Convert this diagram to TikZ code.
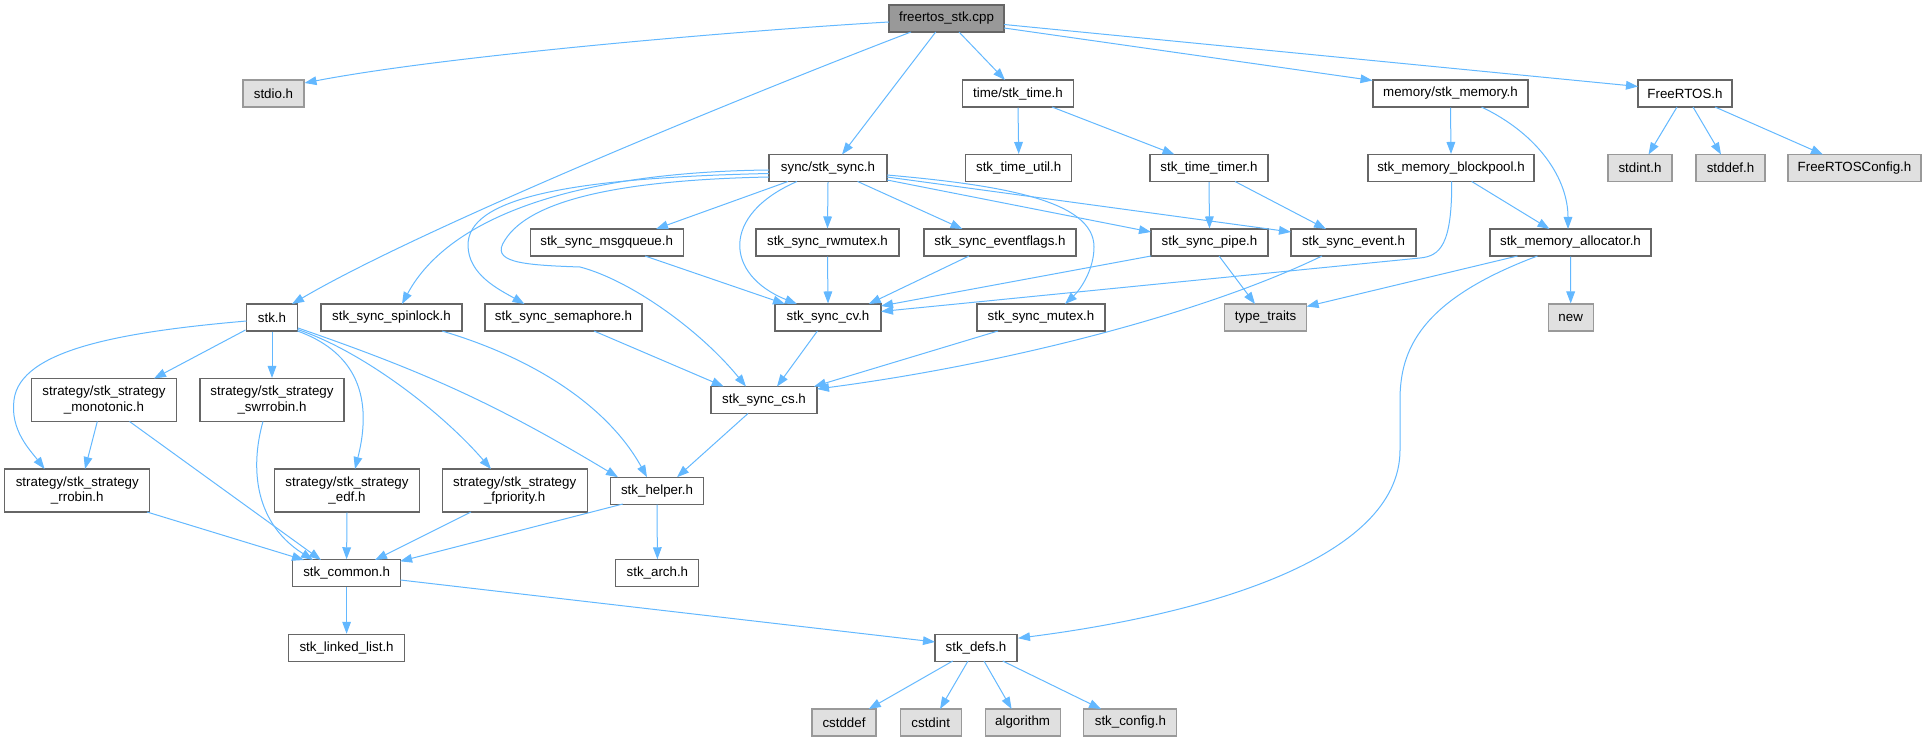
\documentclass[tikz,border=0pt]{standalone}
\usepackage{fontspec}
\setmainfont{Liberation Sans}
\usetikzlibrary{arrows.meta,calc}
\definecolor{edgec}{HTML}{63B8FF}
\begin{document}
\begin{tikzpicture}[x=0.75pt,y=-0.75pt,
 nb/.style={draw=black!60,fill=white,line width=0.8pt,minimum height=20.25pt,inner sep=0pt,font=\fontsize{10}{11.5}\selectfont,align=center},
 ext/.style={nb,draw=black!40,fill=black!12},
 root/.style={nb,fill=black!40},
 tall/.style={minimum height=32.25pt},
 bw/.style={minimum width=#1*0.75pt},
 ed/.style={draw=edgec,line width=0.75pt,-{Triangle[length=9pt,width=6.5pt]}}]
\useasboundingbox (0,0) rectangle (1926,741);
\node[root,bw=115] (F) at (946.5,18.5) {freertos\_stk.cpp};
\node[ext,bw=61] (stdio) at (273.5,93.5) {stdio.h};
\node[nb,bw=111.5] (time) at (1018,93.5) {time/stk\_time.h};
\node[nb,bw=155] (mem) at (1450.5,93.5) {memory/stk\_memory.h};
\node[nb,bw=94] (frtos) at (1685,93.5) {FreeRTOS.h};
\node[nb,bw=118] (sync) at (828,168) {sync/stk\_sync.h};
\node[nb,bw=106] (tutil) at (1018.7,168) {stk\_time\_util.h};
\node[nb,bw=118] (ttimer) at (1209,168) {stk\_time\_timer.h};
\node[nb,bw=166] (bpool) at (1451,168) {stk\_memory\_blockpool.h};
\node[ext,bw=64] (stdint) at (1640,168) {stdint.h};
\node[ext,bw=69] (stddef) at (1730.5,168) {stddef.h};
\node[ext,bw=133] (frcfg) at (1854.5,168) {FreeRTOSConfig.h};
\node[nb,bw=153] (msgq) at (606.7,242.5) {stk\_sync\_msgqueue.h};
\node[nb,bw=143] (rwm) at (827.5,242.5) {stk\_sync\_rwmutex.h};
\node[nb,bw=152] (evf) at (1000,242.5) {stk\_sync\_eventflags.h};
\node[nb,bw=117] (pipe) at (1209.5,242.5) {stk\_sync\_pipe.h};
\node[nb,bw=125] (event) at (1353.5,242.5) {stk\_sync\_event.h};
\node[nb,bw=161] (alloc) at (1570.5,242.5) {stk\_memory\_allocator.h};
\node[nb,bw=51] (stk) at (272,317.5) {stk.h};
\node[nb,bw=141] (spin) at (391.5,317.5) {stk\_sync\_spinlock.h};
\node[nb,bw=157] (sem) at (563.5,317.5) {stk\_sync\_semaphore.h};
\node[nb,bw=106] (cv) at (828,317.5) {stk\_sync\_cv.h};
\node[nb,bw=128] (mutex) at (1041,317.5) {stk\_sync\_mutex.h};
\node[ext,bw=82] (tt) at (1265.6,317.5) {type\_traits};
\node[ext,bw=45] (newh) at (1570.7,317.5) {new};
\node[nb,tall,bw=145] (mono) at (104,400) {strategy/stk\_strategy\\\_monotonic.h};
\node[nb,tall,bw=144] (swr) at (272,400) {strategy/stk\_strategy\\\_swrrobin.h};
\node[nb,bw=106] (cs) at (764,400) {stk\_sync\_cs.h};
\node[nb,tall,bw=145] (rr) at (77.3,490.5) {strategy/stk\_strategy\\\_rrobin.h};
\node[nb,tall,bw=145] (edf) at (347,490.5) {strategy/stk\_strategy\\\_edf.h};
\node[nb,tall,bw=145] (fpri) at (514.7,490.5) {strategy/stk\_strategy\\\_fpriority.h};
\node[nb,bw=93] (helper) at (657,490.7) {stk\_helper.h};
\node[nb,bw=107.5] (common) at (346.6,573.3) {stk\_common.h};
\node[nb,bw=83] (arch) at (657.4,573.3) {stk\_arch.h};
\node[nb,bw=116] (linked) at (346.6,647.8) {stk\_linked\_list.h};
\node[nb,bw=82] (defs) at (976,647.7) {stk\_defs.h};
\node[ext,bw=64] (cstddef) at (844,722.5) {cstddef};
\node[ext,bw=61] (cstdint) at (930.7,722.5) {cstdint};
\node[ext,bw=75] (algo) at (1022.6,722.5) {algorithm};
\node[ext,bw=93] (cfg) at (1130.4,722.5) {stk\_config.h};
% edges
\draw[ed] ($(F)+(-57.5,3.5)$) .. controls (750,30) and (450,55) .. ($(stdio)+(31,-10.5)$);
\draw[ed] ($(F)+(-35.5,13.5)$) .. controls (780,82) and (430,223) .. ($(stk)+(20,-13.5)$);
\draw[ed] ($(F)+(-10.8,13.5)$) -- ($(sync)+(14,-13.5)$);
\draw[ed] ($(F)+(12.5,13.5)$) -- ($(time)+(-13,-13.5)$);
\draw[ed] ($(F)+(57.5,9.5)$) -- ($(mem)+(-78,-13)$);
\draw[ed] ($(F)+(57.5,6)$) -- ($(frtos)+(-47,-7)$);
\draw[ed] (time.south) -- (tutil.north);
\draw[ed] ($(time)+(34,13.5)$) -- ($(ttimer)+(-34.5,-13.5)$);
\draw[ed] (mem.south) -- (bpool.north);
\draw[ed] ($(mem)+(31,13.5)$) .. controls (1540,135) and (1568,180) .. ($(alloc)+(-2.5,-13.5)$);
\draw[ed] ($(frtos)+(-8,13.5)$) -- ($(stdint)+(8.5,-13.5)$);
\draw[ed] ($(frtos)+(8,13.5)$) -- ($(stddef)+(-9.5,-13.5)$);
\draw[ed] ($(frtos)+(30,13.5)$) -- ($(frcfg)+(-31.5,-13.5)$);
\draw[ed] (ttimer.south) -- (pipe.north);
\draw[ed] ($(ttimer)+(26,13.5)$) -- ($(event)+(-27.5,-13.5)$);
\draw[ed] ($(bpool)+(20.7,13.5)$) -- ($(alloc)+(-21,-13.5)$);
\draw[ed] ($(bpool)+(0.7,13.5)$) .. controls (1452,245) and (1440,256) .. (1420,258) -- ($(cv)+(53,-6)$);
\draw[ed] ($(alloc)+(-53,13.5)$) -- ($(tt)+(41,-11)$);
\draw[ed] (alloc.south) -- (newh.north);
\draw[ed] ($(alloc)+(-33,13.5)$) .. controls (1420,300) and (1400,350) .. (1400,400) -- (1400,450) .. controls (1400,560) and (1200,615) .. ($(defs)+(42,-9.5)$);
\draw[ed] ($(sync)+(-40,13.5)$) -- ($(msgq)+(49.3,-13.5)$);
\draw[ed] (sync.south) -- (rwm.north);
\draw[ed] ($(sync)+(29.6,13.5)$) -- ($(evf)+(-37.5,-13.5)$);
\draw[ed] ($(sync)+(59,12)$) -- ($(pipe)+(-58.5,-10.5)$);
\draw[ed] ($(sync)+(59,9)$) -- ($(event)+(-62.5,-10.5)$);
\draw[ed] ($(sync)+(-31,13.5)$) .. controls (720,215) and (725,275) .. ($(cv)+(-31,-13.5)$);
\draw[ed] ($(sync)+(59,7)$) .. controls (1000,185) and (1094,200) .. (1094,247) .. controls (1094,270) and (1080,290) .. ($(mutex)+(24,-13.5)$);
\draw[ed] ($(sync)+(-59,9)$) .. controls (620,180) and (530,200) .. (505,240) .. controls (490,262) and (520,265) .. (580,267) .. controls (630,280) and (700,330) .. ($(cs)+(-18,-13.5)$);
\draw[ed] ($(sync)+(-59,2)$) .. controls (580,172) and (450,215) .. ($(spin)+(10.5,-13.5)$);
\draw[ed] ($(sync)+(-59,5.5)$) .. controls (560,178) and (468,200) .. (468,245) .. controls (468,275) and (500,290) .. ($(sem)+(-39,-13.5)$);
\draw[ed] ($(msgq)+(38.3,13.5)$) -- ($(cv)+(-43,-13.5)$);
\draw[ed] (rwm.south) -- (cv.north);
\draw[ed] ($(evf)+(-31,13.5)$) -- ($(cv)+(40.75,-13.5)$);
\draw[ed] ($(pipe)+(-58.5,13.5)$) -- ($(cv)+(53,-11.5)$);
\draw[ed] ($(pipe)+(9.5,13.5)$) -- ($(tt)+(-10.6,-13.5)$);
\draw[ed] ($(event)+(-31.5,13.5)$) .. controls (1200,315) and (1000,365) .. ($(cs)+(53,-11)$);
\draw[ed] ($(cv)+(-10.6,13.5)$) -- ($(cs)+(13,-13.5)$);
\draw[ed] ($(mutex)+(-43,13.5)$) -- ($(cs)+(50,-13.5)$);
\draw[ed] ($(sem)+(30.5,13.5)$) -- ($(cs)+(-40.3,-13.5)$);
\draw[ed] ($(cs)+(-16,13.5)$) -- ($(helper)+(20,-13.5)$);
\draw[ed] ($(spin)+(50.5,13.5)$) .. controls (540,360) and (610,410) .. ($(helper)+(-10,-13.5)$);
\draw[ed] ($(stk)+(26,10.5)$) to[bend left=6] ($(helper)+(-39,-13.5)$);
\draw[ed] ($(stk)+(-25.5,3.5)$) .. controls (120,332) and (20,350) .. (14,400) .. controls (10,430) and (30,450) .. ($(rr)+(-32.7,-21.5)$);
\draw[ed] ($(stk)+(-26.5,12.5)$) -- ($(mono)+(50,-21.5)$);
\draw[ed] (stk.south) -- (swr.north);
\draw[ed] ($(stk)+(25.5,13.5)$) .. controls (350,350) and (375,390) .. ($(edf)+(8,-21.5)$);
\draw[ed] ($(stk)+(25.5,12)$) .. controls (360,350) and (440,410) .. ($(fpri)+(-23.7,-21.5)$);
\draw[ed] ($(mono)+(-6.7,21.5)$) -- ($(rr)+(7.7,-21.5)$);
\draw[ed] ($(mono)+(25.5,21.5)$) -- ($(common)+(-25.6,-13.3)$);
\draw[ed] ($(swr)+(-9,21.5)$) .. controls (252,460) and (250,520) .. ($(common)+(-33.6,-13.3)$);
\draw[ed] ($(rr)+(69.7,21.5)$) -- ($(common)+(-42.6,-13.3)$);
\draw[ed] (edf.south) -- (common.north);
\draw[ed] ($(fpri)+(-43.7,21.5)$) -- ($(common)+(28.4,-13.3)$);
\draw[ed] ($(helper)+(-34.2,13.3)$) -- ($(common)+(53.5,-12)$);
\draw[ed] (helper.south) -- (arch.north);
\draw[ed] (common.south) -- (linked.north);
\draw[ed] ($(common)+(53.8,6.7)$) -- ($(defs)+(-41,-5.7)$);
\draw[ed] ($(defs)+(-23.3,13.3)$) -- ($(cstddef)+(24.75,-13.5)$);
\draw[ed] ($(defs)+(-8,13.3)$) -- ($(cstdint)+(9.3,-13.5)$);
\draw[ed] ($(defs)+(8,13.3)$) -- ($(algo)+(-11,-13.5)$);
\draw[ed] ($(defs)+(26.7,13.3)$) -- ($(cfg)+(-29.4,-13.5)$);
\end{tikzpicture}
\end{document}
